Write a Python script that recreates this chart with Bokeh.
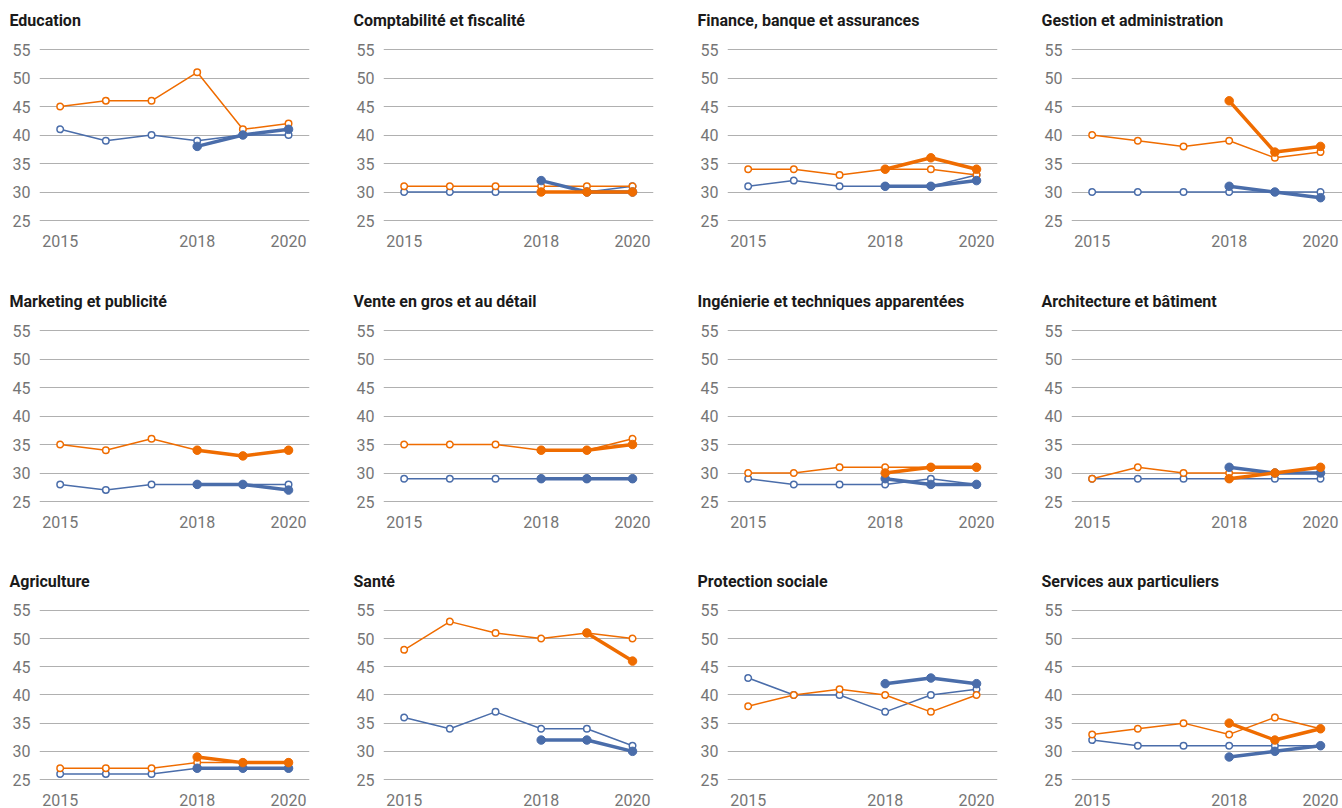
import numpy as np
from bokeh.plotting import figure
from bokeh.layouts import row, column
from bokeh.models import FixedTicker, Range1d
from bokeh.embed import file_html
from bokeh.resources import INLINE

NaN = float("nan")

years = [2015, 2016, 2017, 2018, 2019, 2020]
years_recent = [2018, 2019, 2020]
x_tick_years = [2015, 2018, 2020]
y_ticks = [25, 30, 35, 40, 45, 50, 55]

titles = [
    "Education", "Comptabilité et fiscalité", "Finance, banque et assurances", "Gestion et administration",
    "Marketing et publicité", "Vente en gros et au détail", "Ingénierie et techniques apparentées", "Architecture et bâtiment",
    "Agriculture", "Santé", "Protection sociale", "Services aux particuliers",
]

orange_thin = [
    [45, 46, 46, 51, 41, 42],
    [31, 31, 31, 31, 31, 31],
    [34, 34, 33, 34, 34, 33],
    [40, 39, 38, 39, 36, 37],
    [35, 34, 36, 34, 33, 34],
    [35, 35, 35, 34, 34, 36],
    [30, 30, 31, 31, 31, 31],
    [29, 31, 30, 30, 30, 30],
    [27, 27, 27, 28, 28, 28],
    [48, 53, 51, 50, 51, 50],
    [38, 40, 41, 40, 37, 40],
    [33, 34, 35, 33, 36, 34],
]

blue_thin = [
    [41, 39, 40, 39, 40, 40],
    [30, 30, 30, 30, 30, 31],
    [31, 32, 31, 31, 31, 33],
    [30, 30, 30, 30, 30, 30],
    [28, 27, 28, 28, 28, 28],
    [29, 29, 29, 29, 29, 29],
    [29, 28, 28, 28, 29, 28],
    [29, 29, 29, 29, 29, 29],
    [26, 26, 26, 27, 27, 27],
    [36, 34, 37, 34, 34, 31],
    [43, 40, 40, 37, 40, 41],
    [32, 31, 31, 31, 31, 31],
]

orange_thick = [
    [NaN, NaN, NaN],
    [30, 30, 30],
    [34, 36, 34],
    [46, 37, 38],
    [34, 33, 34],
    [34, 34, 35],
    [30, 31, 31],
    [29, 30, 31],
    [29, 28, 28],
    [NaN, 51, 46],
    [NaN, NaN, NaN],
    [35, 32, 34],
]

blue_thick = [
    [38, 40, 41],
    [32, 30, 30],
    [31, 31, 32],
    [31, 30, 29],
    [28, 28, 27],
    [29, 29, 29],
    [29, 28, 28],
    [31, 30, 30],
    [27, 27, 27],
    [32, 32, 30],
    [42, 43, 42],
    [29, 30, 31],
]

ORANGE = "#EF6C00"
BLUE = "#4A6DAA"
GRID = "#b0b0b0"
FONT = "Roboto"

COL_W = [352, 344, 344, 302]
ROW_H = [284, 280, 244]
ROW_TOP = [34, 31, 31]
LEFT = 31
FRAME_H = 189
FRAME_W = 270
PX_PER_YEAR = 45.67
PX_PER_UNIT = 5.7
X0 = 2014.547
Y1 = 55 + 15 / PX_PER_UNIT
Y0 = Y1 - FRAME_H / PX_PER_UNIT


def make_panel(i, w, h, c, r):
    left = LEFT + (8 if c == 0 else 0)
    top = ROW_TOP[r]
    frame_w = FRAME_W if c < 3 else w - left
    right = w - left - frame_w
    p = figure(width=w, height=h, output_backend="svg", toolbar_location=None,
               x_range=Range1d(X0, X0 + frame_w / PX_PER_YEAR), y_range=Range1d(Y0, Y1),
               min_border_left=left, min_border_right=right, min_border_top=top,
               min_border_bottom=h - top - FRAME_H, title=titles[i])
    p.outline_line_color = None
    p.background_fill_color = "white"
    p.border_fill_color = "white"
    p.title.text_font = FONT
    p.title.text_font_style = "bold"
    p.title.text_font_size = "16px"
    p.title.text_color = "#1a1a1a"
    p.title.align = "left"
    p.title.offset = -30
    p.title.standoff = 10

    for ax in (p.xaxis[0], p.yaxis[0]):
        ax.axis_line_color = None
        ax.major_tick_line_color = None
        ax.minor_tick_line_color = None
        ax.major_tick_in = 0
        ax.major_tick_out = 0
        ax.minor_tick_in = 0
        ax.minor_tick_out = 0
        ax.major_label_text_font = FONT
        ax.major_label_text_font_size = "16px"
        ax.major_label_text_color = "#757575"
    p.xaxis[0].ticker = FixedTicker(ticks=x_tick_years)
    p.yaxis[0].ticker = FixedTicker(ticks=y_ticks)
    p.xaxis[0].major_label_standoff = 11
    p.yaxis[0].major_label_standoff = 9
    p.xgrid.visible = False
    p.ygrid.grid_line_color = GRID
    p.ygrid.grid_line_width = 1

    yrs = np.array(years, dtype=float)
    yrs_r = np.array(years_recent, dtype=float)
    bt = np.array(blue_thin[i], dtype=float)
    ot = np.array(orange_thin[i], dtype=float)
    bk = np.array(blue_thick[i], dtype=float)
    ok = np.array(orange_thick[i], dtype=float)

    p.line(yrs, bt, line_color=BLUE, line_width=1.5)
    p.scatter(yrs, bt, size=6.5, fill_color="white", line_color=BLUE, line_width=1.5)
    p.line(yrs, ot, line_color=ORANGE, line_width=1.5)
    p.scatter(yrs, ot, size=6.5, fill_color="white", line_color=ORANGE, line_width=1.5)
    p.line(yrs_r, bk, line_color=BLUE, line_width=3.5)
    p.scatter(yrs_r, bk, size=8.5, fill_color=BLUE, line_color=BLUE, line_width=1)
    p.line(yrs_r, ok, line_color=ORANGE, line_width=3.5)
    p.scatter(yrs_r, ok, size=8.5, fill_color=ORANGE, line_color=ORANGE, line_width=1)
    return p


rows = []
for r in range(3):
    figs = []
    for c in range(4):
        figs.append(make_panel(r * 4 + c, COL_W[c], ROW_H[r], c, r))
    rows.append(row(*figs))

layout = column(*rows)
open("out.html", "w").write(file_html(layout, INLINE))
